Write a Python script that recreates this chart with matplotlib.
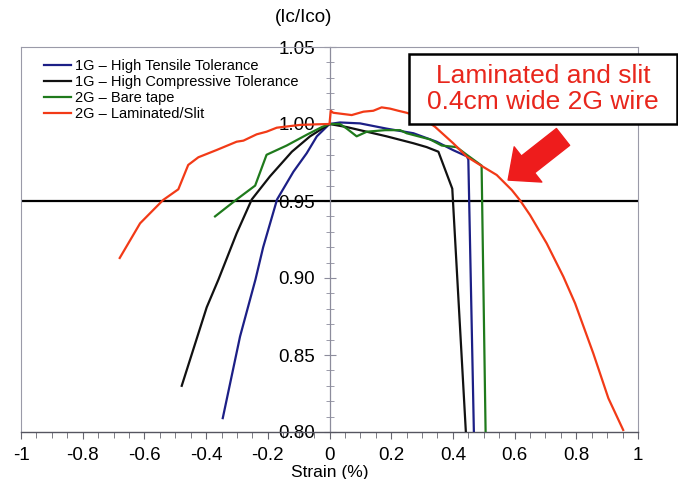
import matplotlib
matplotlib.use("Agg")
import matplotlib.pyplot as plt
from matplotlib.patches import Rectangle
from matplotlib.ticker import MultipleLocator, FixedLocator

plt.rcParams['font.family'] = ['Liberation Sans', 'DejaVu Sans']

# strain (%) vs normalised critical current Ic/Ico
tens_x = [-0.346, -0.29, -0.24, -0.215, -0.17, -0.117, -0.074, -0.041, 0.0,
          0.034, 0.099, 0.185, 0.272, 0.347, 0.401, 0.445, 0.45, 0.468]
tens_y = [0.809, 0.862, 0.899, 0.920, 0.951, 0.969, 0.981, 0.992, 1.0,
          1.001, 1.0004, 0.997, 0.994, 0.9885, 0.983, 0.979, 0.977, 0.80]

comp_x = [-0.479, -0.398, -0.36, -0.301, -0.252, -0.193, -0.122, -0.063, 0.0,
          0.056, 0.185, 0.272, 0.315, 0.353, 0.398, 0.442]
comp_y = [0.830, 0.881, 0.899, 0.929, 0.951, 0.966, 0.982, 0.992, 1.0,
          0.998, 0.992, 0.9875, 0.985, 0.982, 0.958, 0.80]

bare_x = [-0.371, -0.301, -0.241, -0.204, -0.139, -0.074, -0.025, 0.0,
          0.034, 0.056, 0.088, 0.121, 0.18, 0.229, 0.25, 0.326, 0.364,
          0.412, 0.445, 0.493, 0.506]
bare_y = [0.940, 0.951, 0.960, 0.980, 0.986, 0.993, 0.998, 1.0,
          1.0, 0.997, 0.992, 0.995, 0.996, 0.996, 0.994, 0.990, 0.986,
          0.985, 0.980, 0.973, 0.80]

lam_x = [-0.68, -0.614, -0.582, -0.539, -0.49, -0.458, -0.425, -0.366, -0.301,
         -0.279, -0.236, -0.204, -0.171, -0.096, -0.041, 0.0, 0.004, 0.012,
         0.072, 0.11, 0.142, 0.169, 0.196, 0.223, 0.25, 0.30, 0.342, 0.401,
         0.445, 0.488, 0.542, 0.591, 0.617, 0.65, 0.704, 0.758, 0.796,
         0.855, 0.904, 0.952]
lam_y = [0.913, 0.9355, 0.942, 0.9507, 0.9576, 0.9734, 0.9784, 0.9831, 0.9885,
         0.9892, 0.9933, 0.995, 0.9976, 0.9994, 0.9998, 1.0, 1.0086, 1.0073,
         1.0058, 1.008, 1.0086, 1.0108, 1.010, 1.0086, 1.0073, 1.004, 0.9982, 0.9875,
         0.9788, 0.9734, 0.9669, 0.9571, 0.9506, 0.9409, 0.9225, 0.9009, 0.8836,
         0.8511, 0.8219, 0.8013]

series = [
    (tens_x, tens_y, '#1c1f86', '1G – High Tensile Tolerance'),
    (comp_x, comp_y, '#111111', '1G – High Compressive Tolerance'),
    (bare_x, bare_y, '#1f7a1c', '2G – Bare tape'),
    (lam_x, lam_y, '#f23a17', '2G – Laminated/Slit'),
]
xticks = [-1, -0.8, -0.6, -0.4, -0.2, 0, 0.2, 0.4, 0.6, 0.8, 1]
xtick_labels = ['-1', '-0.8', '-0.6', '-0.4', '-0.2', '0', '0.2', '0.4', '0.6', '0.8', '1']
yticks = [0.80, 0.85, 0.90, 0.95, 1.00, 1.05]
ytick_labels = ['0.80', '0.85', '0.90', '0.95', '1.00', '1.05']
threshold = 0.95

W, H = 678, 479
fig = plt.figure(figsize=(W / 100, H / 100), dpi=100)
ax = fig.add_axes([21 / W, 1 - 432 / H, 617 / W, 385 / H])
ax.set_xlim(-1, 1)
ax.set_ylim(0.80, 1.05)

for x, y, c, lab in series:
    ax.plot(x, y, color=c, lw=1.6, label=lab, zorder=3)

ax.axhline(threshold, color='black', lw=1.6, zorder=2)

# frame and axes
for s in ('top', 'right'):
    ax.spines[s].set_color('#9a9aa8')
    ax.spines[s].set_linewidth(0.8)
ax.spines['left'].set_position(('data', 0))
ax.spines['left'].set_color('#8c8c9c')
ax.spines['left'].set_linewidth(0.9)
ax.spines['bottom'].set_color('#555560')
ax.spines['bottom'].set_linewidth(1.0)
ax.plot([-1, -1], [0.80, 1.05], color='#9a9aa8', lw=0.8, clip_on=False)

ax.xaxis.set_major_locator(FixedLocator(xticks))
ax.set_xticklabels(xtick_labels)
ax.xaxis.set_minor_locator(MultipleLocator(0.05))
ax.yaxis.set_major_locator(FixedLocator(yticks))
ax.set_yticklabels(ytick_labels)
ax.yaxis.set_minor_locator(MultipleLocator(0.01))
ax.tick_params(axis='x', which='major', direction='out', length=5, color='#666670',
               labelsize=13.5, pad=6)
ax.tick_params(axis='x', which='minor', direction='out', length=4, color='#666670')
ax.tick_params(axis='y', which='major', direction='inout', length=9, color='#8c8c9c',
               labelsize=13.5, pad=6)
ax.tick_params(axis='y', which='minor', direction='inout', length=6, color='#8c8c9c')

fig.text(330 / W, 1 - 472 / H, 'Strain (%)', ha='center', va='center', fontsize=12.5)
fig.text(304 / W, 1 - 18 / H, '(Ic/Ico)', ha='center', va='center', fontsize=13.5)

ax.legend(loc='upper left', bbox_to_anchor=(37 / W, 1 - 52 / H),
          bbox_transform=fig.transFigure, frameon=False, fontsize=10.5,
          handlelength=1.8, handletextpad=0.3, labelspacing=0.14, borderpad=0)

# annotation box
fig.patches.append(Rectangle((409 / W, 1 - 124 / H), 268 / W, 70 / H,
                             transform=fig.transFigure, facecolor='white',
                             edgecolor='black', lw=1.8, zorder=5))
fig.text(543 / W, 1 - 89 / H, 'Laminated and slit\n0.4cm wide 2G wire', ha='center',
         va='center', fontsize=19, color='#e8261c', linespacing=1.15, zorder=6)

ax.annotate('', xy=(0.579, 0.9636), xytext=(0.757, 0.9916),
            arrowprops=dict(arrowstyle='simple,tail_width=1.1,head_width=2.3,head_length=1.3',
                            color='#ee1c1c', mutation_scale=14, shrinkA=0, shrinkB=0),
            zorder=6)

fig.savefig('out.png', dpi=100)
